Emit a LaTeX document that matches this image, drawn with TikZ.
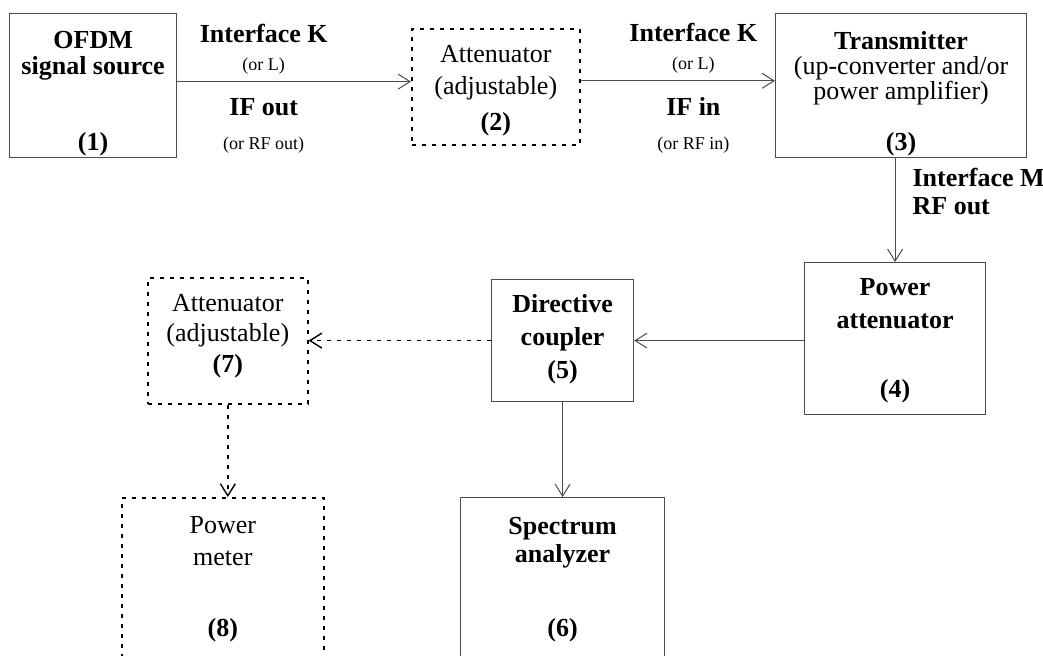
\documentclass[tikz,border=0pt]{standalone}
\usepackage{fontspec}
\setmainfont{Liberation Serif}
\usetikzlibrary{arrows.meta,positioning}

\begin{document}
\begin{tikzpicture}[x=0.5pt, y=-0.5pt,
  >={Straight Barb[length=6pt,width=7.5pt]},
  font=\fontsize{13}{15}\selectfont,
  box/.style={draw=black!70, line width=0.6pt, inner sep=0pt, anchor=north west},
  dotbox/.style={box, draw=black, line width=0.8pt, dash pattern=on 2pt off 3pt},
  title/.style={inner sep=0pt, align=center, font=\fontsize{13}{#1}\selectfont},
  title/.default=14pt,
  num/.style={inner sep=0pt, font=\fontsize{13}{15}\selectfont\bfseries},
  small/.style={inner sep=0pt, font=\fontsize{9}{11}\selectfont},
  wire/.style={draw=black!70, line width=0.5pt, ->},
  dotwire/.style={wire, draw=black, line width=0.7pt, dash pattern=on 2pt off 3pt}
]
  \useasboundingbox (0,0) rectangle (1043,655);

  % boxes
  \node[box, minimum width=83.5pt, minimum height=72pt] (src) at (9,13) {};
  \node[dotbox, minimum width=84pt, minimum height=58pt] (att1) at (411,28) {};
  \node[box, minimum width=125.5pt, minimum height=72pt] (tx) at (775,13) {};
  \node[box, minimum width=90.5pt, minimum height=76pt] (patt) at (804,262) {};
  \node[box, minimum width=71pt, minimum height=61pt] (coupler) at (491,279) {};
  \node[box, minimum width=102pt, minimum height=85pt] (spec) at (460,497) {};
  \node[dotbox, minimum width=80pt, minimum height=63pt] (att2) at (147,277) {};
  \node[dotbox, minimum width=101pt, minimum height=85pt] (meter) at (121,497) {};

  % texts in the boxes
  \node[title=13pt, below=8.75pt of src.north] (srct) {\textbf{OFDM}\\\textbf{signal source}};
  \node[num, above=1pt of src.south] (srcn) {(1)};
  \node[title=16pt, below=8.25pt of att1.north] (att1t) {Attenuator\\(adjustable)};
  \node[num, above=4.5pt of att1.south] (att1n) {(2)};
  \node[title=12.5pt, below=9pt of tx.north] (txt) {\textbf{Transmitter}\\(up-converter and/or\\power amplifier)};
  \node[num, above=1pt of tx.south] (txn) {(3)};
  \node[title=16.5pt, below=8.25pt of patt.north] (pattt) {\textbf{Power}\\\textbf{attenuator}};
  \node[num, above=6pt of patt.south] (pattn) {(4)};
  \node[title=16.5pt, below=7.75pt of coupler.north] (couplert) {\textbf{Directive}\\\textbf{coupler}};
  \node[num, above=9pt of coupler.south] (couplern) {(5)};
  \node[title=14pt, below=9.75pt of spec.north] (spect) {\textbf{Spectrum}\\\textbf{analyzer}};
  \node[num, above=13pt of spec.south] (specn) {(6)};
  \node[title=15pt, below=8.25pt of att2.north] (att2t) {Attenuator\\(adjustable)};
  \node[num, above=13pt of att2.south] (att2n) {(7)};
  \node[title=16pt, below=9.75pt of meter.north] (metert) {Power\\meter};
  \node[num, above=13pt of meter.south] (metern) {(8)};

  % connectors
  \draw[wire] ([yshift=2pt]src.east) -- ([yshift=2pt]src.east -| att1.west)
    node[small, pos=0.37, above=3.5pt] (orl1) {(or L)}
    node[num, pos=0.37, below=8.25pt] (ifout) {IF out};
  \node[num, above=7pt of orl1] (ifk1) {Interface K};
  \node[small, below=10pt of ifout] (orrf1) {(or RF out)};

  \draw[wire] ([yshift=3pt]att1.east) -- ([yshift=3pt]att1.east -| tx.west)
    node[small, pos=0.58, above=3.5pt] (orl2) {(or L)}
    node[num, pos=0.58, below=8.25pt] (ifin) {IF in};
  \node[num, above=7pt of orl2] (ifk2) {Interface K};
  \node[small, below=10pt of ifin] (orrf2) {(or RF in)};

  \draw[wire] (patt.north |- tx.south) -- (patt.north)
    node[title=14pt, pos=0.32, right=8.5pt, align=left] (ifm) {\textbf{Interface M}\\\textbf{RF out}};
  \draw[wire] (coupler.east -| patt.west) -- (coupler.east);
  \draw[wire] (coupler.south) -- (coupler.south |- spec.north);
  \draw[dotwire] (coupler.west) -- (coupler.west -| att2.east);
  \draw[dotwire] (att2.south) -- (att2.south |- meter.north);
\end{tikzpicture}
\end{document}
